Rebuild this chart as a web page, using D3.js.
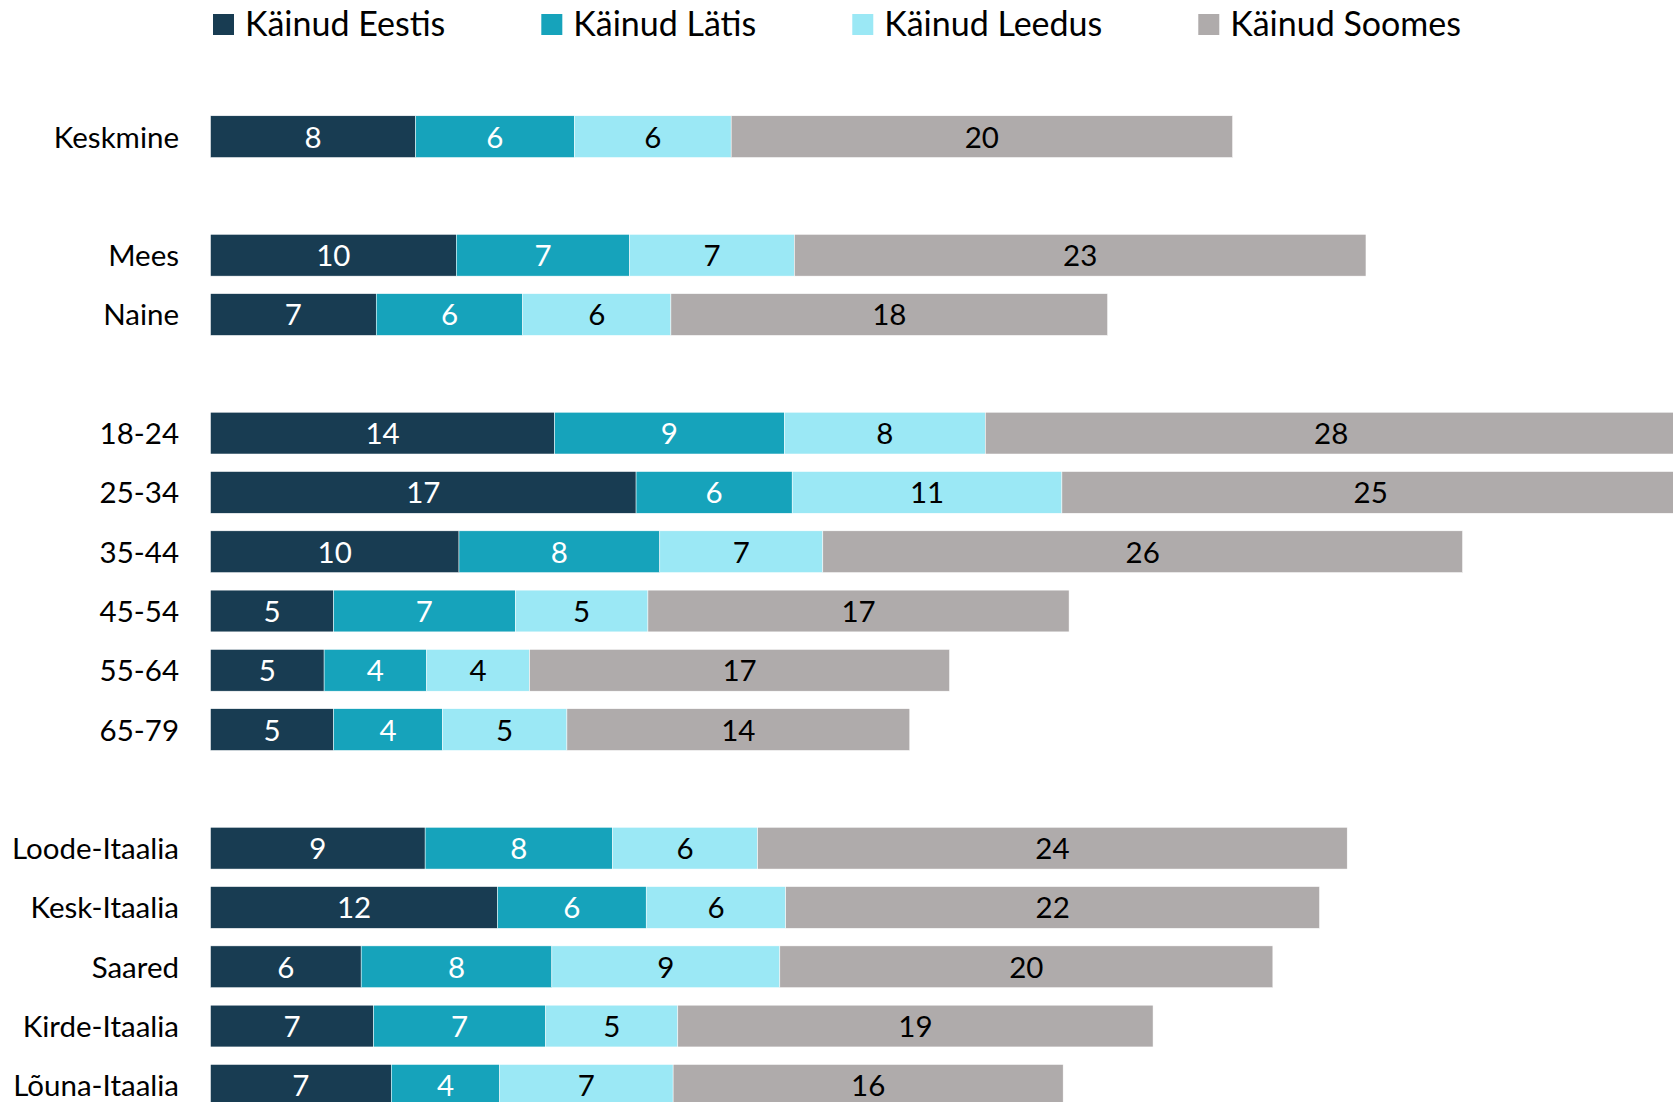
<!DOCTYPE html>
<html>
<head>
<meta charset="utf-8">
<style>
  body { margin: 0; background: #fff; }
  svg { display: block; font-family: Lato, "Open Sans", sans-serif; }
</style>
</head>
<body>
<svg width="1673" height="1102"></svg>
<script src="https://d3js.org/d3.v7.min.js"></script>
<script>

// groups of categories, a blank row is left between groups
var groups = [
    ["Keskmine"],
    ["Mees", "Naine"],
    ["18-24", "25-34", "35-44", "45-54", "55-64", "65-79"],
    ["Loode-Itaalia", "Kesk-Itaalia", "Saared", "Kirde-Itaalia", "Lõuna-Itaalia"]
];

var seriesNames = ["Käinud Eestis", "Käinud Lätis", "Käinud Leedus", "Käinud Soomes"];
var seriesColors = ["#183c52", "#16a3bb", "#9be8f5", "#afabab"];
var labelColors = ["#fff", "#fff", "#000", "#000"];

// values in category order (Keskmine, Mees, Naine, ages, regions)
var eestis = [8.3, 9.95, 6.71, 13.93, 17.23, 10.06, 4.98, 4.6, 4.98, 8.69, 11.62, 6.1, 6.6, 7.32];
var latis  = [6.43, 7.02, 5.93, 9.3, 6.32, 8.13, 7.36, 4.15, 4.41, 7.59, 6.02, 7.72, 6.97, 4.39];
var leedus = [6.35, 6.67, 6.0, 8.14, 10.92, 6.6, 5.37, 4.17, 5.04, 5.87, 5.65, 9.23, 5.35, 7.02];
var soomes = [20.3, 23.14, 17.68, 28, 25, 25.9, 17.05, 17.0, 13.88, 23.87, 21.61, 19.96, 19.24, 15.79];

var categories = [].concat.apply([], groups);
var rows = [];
groups.forEach(function(g, i) {
    if (i > 0) rows.push("gap" + i);
    g.forEach(function(c) { rows.push(c); });
});

var table = categories.map(function(c, i) {
    return { cat: c, s0: eestis[i], s1: latis[i], s2: leedus[i], s3: soomes[i] };
});

var svg = d3.select("svg");

var x = d3.scaleLinear()
    .domain([0, 60])
    .range([210.5, 1692.5]);

var y = d3.scaleBand()
    .domain(rows)
    .range([107, 1115])
    .paddingInner(0.296)
    .paddingOuter(0.148);

var stack = d3.stack().keys(["s0", "s1", "s2", "s3"]);
var layers = stack(table);

var layer = svg.append("g").selectAll("g")
    .data(layers)
    .enter().append("g")
    .attr("fill", function(d, i) { return seriesColors[i]; });

layer.selectAll("rect")
    .data(function(d) { return d; })
    .enter().append("rect")
    .attr("x", function(d) { return x(d[0]); })
    .attr("y", function(d) { return y(d.data.cat); })
    .attr("width", function(d) { return x(d[1]) - x(d[0]); })
    .attr("height", y.bandwidth())
    .attr("stroke", "#fff")
    .attr("stroke-width", 0.5);

layer.each(function(l, i) {
    d3.select(this).selectAll("text")
        .data(l)
        .enter().append("text")
        .attr("x", function(d) { return (x(d[0]) + x(d[1])) / 2; })
        .attr("y", function(d) { return y(d.data.cat) + y.bandwidth() / 2; })
        .attr("dy", "0.37em")
        .attr("text-anchor", "middle")
        .attr("fill", labelColors[i])
        .style("font-size", "29.5px")
        .text(function(d) { return Math.round(d[1] - d[0]); });
});

// category labels
svg.append("g").selectAll("text")
    .data(categories)
    .enter().append("text")
    .attr("x", 179)
    .attr("y", function(d) { return y(d) + y.bandwidth() / 2; })
    .attr("dy", "0.37em")
    .attr("text-anchor", "end")
    .attr("fill", "#000")
    .style("font-size", "29.5px")
    .text(function(d) { return d; });

// legend
var legend = svg.append("g").attr("class", "legend");
var lx = 213;
seriesNames.forEach(function(name, i) {
    legend.append("rect")
        .attr("x", lx)
        .attr("y", 14)
        .attr("width", 21)
        .attr("height", 21)
        .attr("fill", seriesColors[i]);
    var t = legend.append("text")
        .attr("x", lx + 32)
        .attr("y", 36)
        .attr("fill", "#000")
        .style("font-size", "34px")
        .text(name);
    lx += 32 + t.node().getComputedTextLength() + 96;
});

</script>
</body>
</html>
